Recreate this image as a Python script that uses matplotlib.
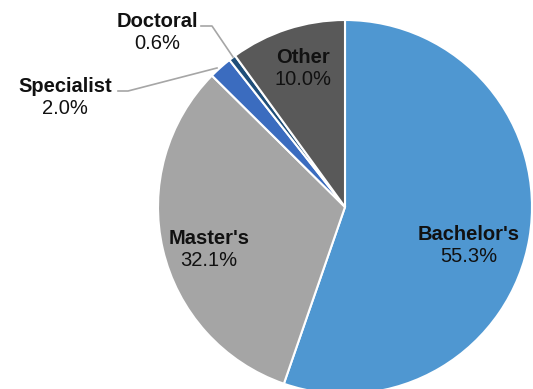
import matplotlib.pyplot as plt

plt.rcParams['font.family'] = ['Liberation Sans', 'DejaVu Sans']

categories = ["Bachelor's", "Master's", "Specialist", "Doctoral", "Other"]
shares = [55.3, 32.1, 2.0, 0.6, 10.0]
colors = ["#4F97D1", "#A5A5A5", "#3B6CBF", "#1F4E79", "#595959"]

W, H = 533, 389
fig = plt.figure(figsize=(W / 100, H / 100), dpi=100)
ax = fig.add_axes([0, 0, 1, 1])

cx, cy, r = 345, 207, 187
# y axis runs downward, so start at -90 (top of screen) and sweep clockwise on screen
wedges, _ = ax.pie(shares, colors=colors, startangle=-90, counterclock=True,
                   center=(cx, cy), radius=r, frame=True,
                   wedgeprops=dict(edgecolor='white', linewidth=1.5))
ax.set_xlim(0, W)
ax.set_ylim(H, 0)
ax.set_aspect('equal')
ax.axis('off')

# label positions (block centres) for each slice
label_pos = {
    "Bachelor's": (469, 245),
    "Master's": (209, 249),
    "Specialist": (65, 97),
    "Doctoral": (157, 32),
    "Other": (303, 68),
}
for name, val in zip(categories, shares):
    x, y = label_pos[name]
    ax.text(x, y - 11, name, ha='center', va='center', fontsize=14.5,
            fontweight='bold', color='#111111')
    ax.text(x, y + 11, f"{val:.1f}%", ha='center', va='center', fontsize=14.5,
            color='#111111')

# leader lines for the small slices
ax.plot([201, 212, 233], [26, 26, 57], color='#A6A6A6', lw=1.2)
ax.plot([118, 128, 217], [91, 91, 68], color='#A6A6A6', lw=1.2)

fig.savefig('out.png', dpi=100)
